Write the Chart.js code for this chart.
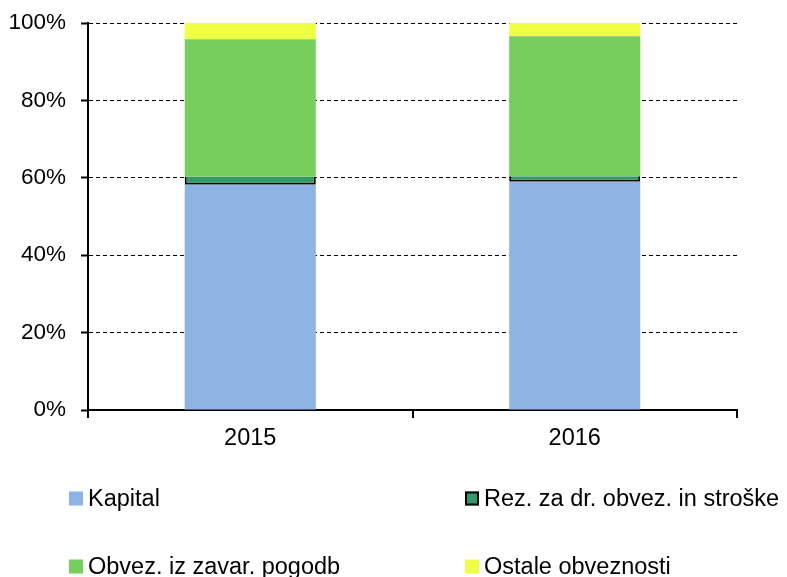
<!DOCTYPE html>
<html>
<head>
<meta charset="utf-8">
<script src="https://cdn.jsdelivr.net/npm/chart.js@4.4.1/dist/chart.umd.min.js"></script>
<style>
html,body{margin:0;padding:0;background:#fff;}
#wrap{width:787px;height:577px;position:relative;}
</style>
</head>
<body>
<div id="wrap"><canvas id="c" width="787" height="577"></canvas></div>
<script>
const categories = ['2015', '2016'];
const seriesNames = ['Kapital', 'Rez. za dr. obvez. in stroške', 'Obvez. iz zavar. pogodb', 'Ostale obveznosti'];
const kapital = [58.2, 59.0];
const rezerve = [2.1, 1.4];
const obvezZavar = [35.5, 36.2];
const ostale = [4.2, 3.4];
const yTicks = [0, 20, 40, 60, 80, 100];

const FONT = "'Liberation Sans', Arial, sans-serif";

const legendPlugin = {
  id: 'gridLegend',
  afterDraw(chart) {
    const ctx = chart.ctx;
    const cols = [69, 465];
    const rows = [498.5, 566.5];
    ctx.save();
    ctx.font = '23.5px ' + FONT;
    ctx.textBaseline = 'middle';
    ctx.textAlign = 'left';
    chart.data.datasets.forEach((ds, i) => {
      const x = cols[i % 2];
      const y = rows[Math.floor(i / 2)];
      ctx.fillStyle = ds.backgroundColor;
      ctx.fillRect(x, y - 7, 14, 14);
      if (ds.legendBorder) {
        ctx.strokeStyle = '#000';
        ctx.lineWidth = 2;
        ctx.strokeRect(x + 1, y - 6, 12, 12);
      }
      ctx.fillStyle = '#000';
      ctx.fillText(ds.label, x + 19, y + 1);
    });
    ctx.restore();
  }
};

new Chart(document.getElementById('c'), {
  type: 'bar',
  data: {
    labels: categories,
    datasets: [
      { label: seriesNames[0], data: kapital, backgroundColor: '#8EB4E3', borderWidth: 0 },
      { label: seriesNames[1], data: rezerve, backgroundColor: '#339966', borderColor: '#000', borderWidth: 2, borderSkipped: 'top', legendBorder: true },
      { label: seriesNames[2], data: obvezZavar, backgroundColor: '#77CE5D', borderWidth: 0 },
      { label: seriesNames[3], data: ostale, backgroundColor: '#EEFF44', borderWidth: 0 }
    ]
  },
  options: {
    responsive: false,
    animation: false,
    devicePixelRatio: 1,
    layout: { padding: { left: 0, right: 50, top: 23, bottom: 130 } },
    datasets: { bar: { categoryPercentage: 1, barPercentage: 0.404 } },
    plugins: { legend: { display: false }, tooltip: { enabled: false } },
    scales: {
      x: {
        stacked: true,
        offset: true,
        grid: { drawOnChartArea: false, drawTicks: true, tickLength: 8, color: '#000', lineWidth: 2 },
        border: { display: true, color: '#000', width: 2 },
        ticks: { color: '#000', font: { family: FONT, size: 23.5 }, padding: 6 },
        afterFit(s) { s.height = 37; s.paddingLeft = 0; s.paddingRight = 0; }
      },
      y: {
        stacked: true,
        min: 0,
        max: 100,
        afterBuildTicks(s) { s.ticks = yTicks.map(v => ({ value: v })); },
        grid: { color: '#000', lineWidth: 1, tickBorderDash: [], tickLength: 7, tickColor: '#000', tickWidth: 2 },
        border: { display: true, color: '#000', width: 2, dash: [4, 3] },
        ticks: { color: '#000', font: { family: FONT, size: 22.5 }, padding: 15, callback: v => v + '%' },
        afterFit(s) { s.width = 88; s.paddingTop = 0; s.paddingBottom = 0; }
      }
    }
  },
  plugins: [legendPlugin]
});
</script>
</body>
</html>
